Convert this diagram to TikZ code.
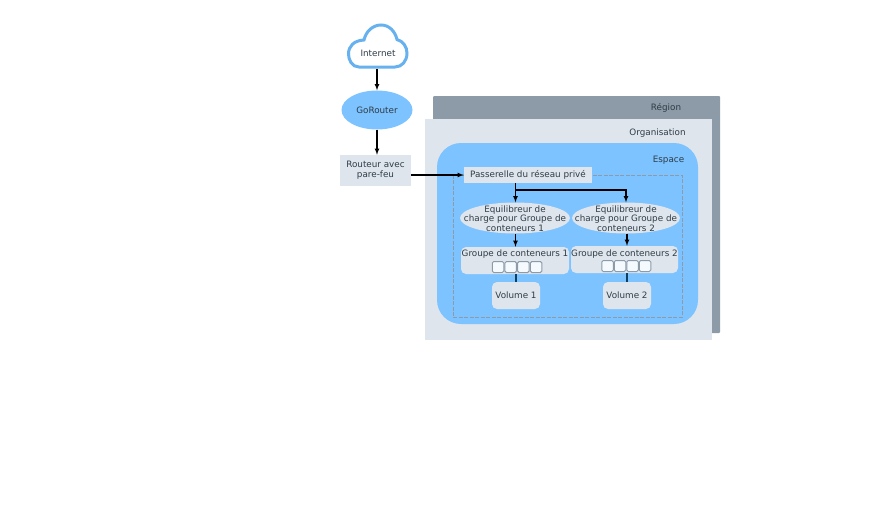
\documentclass[tikz,border=0pt]{standalone}
\usepackage{fontspec}
\setmainfont{DejaVu Sans}
\usetikzlibrary{shapes.geometric,calc}
\definecolor{regiongray}{HTML}{8C9BA7}
\definecolor{orggray}{HTML}{DFE5EC}
\definecolor{spaceblue}{HTML}{7DC3FF}
\definecolor{cloudblue}{HTML}{66B1EE}
\definecolor{inktext}{HTML}{2F3C46}
\definecolor{linkblue}{HTML}{0F3F5F}
\tikzset{
  lbl/.style={text=inktext,font=\fontsize{8.8}{10}\selectfont,inner sep=0pt,align=center},
  tight/.style={font=\fontsize{8.8}{8.2}\selectfont},
  box/.style={lbl,fill=orggray,rounded corners=#1},
  box/.default=0pt,
  oval/.style={lbl,ellipse,fill=orggray,inner sep=0pt},
  slot/.style={draw=regiongray,fill=white!92!spaceblue,rounded corners=1.5pt,line width=1pt,minimum width=11.5pt,minimum height=11pt,inner sep=0pt},
  arr/.style={-latex,black,line width=1.1pt},
}
\begin{document}
\begin{tikzpicture}[x=1pt,y=-1pt]
        \useasboundingbox (0,0) rectangle (888,507);
        % containers
        \node[fill=regiongray,rounded corners=1pt,minimum width=287pt,minimum height=237pt] (region) at (576.5,214.5) {};
        \node[fill=orggray,minimum width=287pt,minimum height=221pt] (orga) at (568.5,229.5) {};
        \node[fill=spaceblue,rounded corners=24pt,minimum width=261pt,minimum height=181pt] (space) at (567.5,233.5) {};
        \node[lbl] (regionlbl) at (666,108) {Région};
        \node[lbl] (orgalbl) at (657.5,133) {Organisation};
        \node[lbl] (spacelbl) at (668.5,160) {Espace};
        \node[draw=regiongray,dashed,dash pattern=on 4pt off 1.5pt,line width=1pt,minimum width=229pt,minimum height=142pt] (subnet) at (567.5,246) {};
        % left of the containers
        \draw[cloudblue,line width=3pt,fill=white] (359,67) .. controls (352,67) and (348.5,60) .. (348.5,54)
          .. controls (348.5,46) and (354,40.5) .. (364,40) .. controls (366,31) and (373,25) .. (381,25)
          .. controls (389,25) and (395,31) .. (397,39.5) .. controls (403,41) and (407,47) .. (407,53)
          .. controls (407,61) and (402,67) .. (395,67) -- cycle;
        \node[lbl] (internet) at (378,53) {Internet};
        \coordinate (cloudfoot) at (377,68.5);
        \node[oval,fill=spaceblue,minimum width=71pt,minimum height=39pt] (gorouter) at (377,110) {GoRouter};
        \node[box,minimum width=71pt,minimum height=31pt] (routeur) at (375.5,170.5) {Routeur avec\\pare-feu};
        \node[box,minimum width=128pt,minimum height=16pt] (gateway) at (528,175) {Passerelle du réseau privé};
        \draw[arr] (cloudfoot)--(gorouter.north);
        \draw[arr] (gorouter.south)--(routeur.north -| gorouter.south);
        \draw[arr] (routeur.east |- gateway)--(gateway.west);
        % first column
        \node[oval,minimum width=110pt,minimum height=31pt] (lb1) at (515,218) {};
        \node[lbl,tight] (lb1lbl) at (515,218.5) {Equilibreur de\\charge pour Groupe de\\conteneurs 1};
        \node[box=5pt,minimum width=108pt,minimum height=27pt] (grp1) at (515,260.5) {};
        \node[lbl] (grp1lbl) at (515,254) {Groupe de conteneurs 1};
        \node[slot] (s11) at (498,267) {};
        \node[slot] (s12) at (510.7,267) {};
        \node[slot] (s13) at (523.4,267) {};
        \node[slot] (s14) at (536.1,267) {};
        \node[box=5pt,minimum width=48pt,minimum height=27pt] (vol1) at (516,295.5) {Volume 1};
        % second column
        \node[oval,minimum width=108pt,minimum height=31pt] (lb2) at (626,218) {};
        \node[lbl,tight] (lb2lbl) at (626,218.5) {Equilibreur de\\charge pour Groupe de\\conteneurs 2};
        \node[box=5pt,minimum width=107pt,minimum height=27pt] (grp2) at (624.5,259.5) {};
        \node[lbl] (grp2lbl) at (624.5,254) {Groupe de conteneurs 2};
        \node[slot] (s21) at (607.5,266) {};
        \node[slot] (s22) at (620,266) {};
        \node[slot] (s23) at (632.5,266) {};
        \node[slot] (s24) at (645,266) {};
        \node[box=5pt,minimum width=48pt,minimum height=27pt] (vol2) at (627,295.5) {Volume 2};
        % links inside the subnet
        \coordinate (fork) at (515.5,190);
        \draw[black,line width=1.1pt] (gateway.south -| fork)--(fork);
        \draw[arr] (fork)--(lb1.north -| fork);
        \draw[arr] (fork)-|(lb2.north);
        \draw[arr] (lb1.south -| fork)--(grp1.north -| fork);
        \draw[arr] (lb2.south -| vol2)--(grp2.north -| vol2);
        \draw[linkblue,line width=1.1pt] (grp1.south -| vol1)--(vol1.north);
        \draw[linkblue,line width=1.1pt] (grp2.south -| vol2)--(vol2.north);
      \end{tikzpicture}
\end{document}
